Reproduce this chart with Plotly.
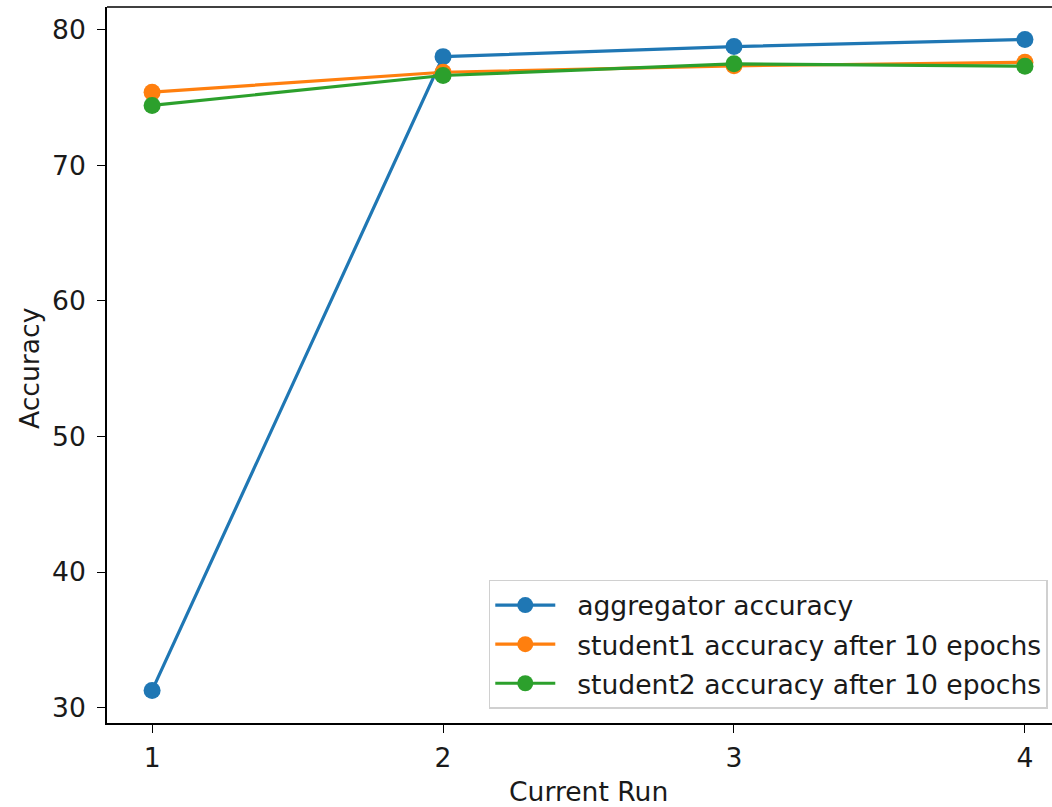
import plotly.graph_objects as go

runs = [1, 2, 3, 4]
aggregator_acc = [31.27, 78.01, 78.75, 79.27]
student1_acc = [75.39, 76.86, 77.33, 77.6]
student2_acc = [74.41, 76.62, 77.48, 77.3]

series_names = ["aggregator accuracy",
                "student1 accuracy after 10 epochs",
                "student2 accuracy after 10 epochs"]
series_colors = ["#1f77b4", "#ff7f0e", "#2ca02c"]
series_values = [aggregator_acc, student1_acc, student2_acc]

FONT = "DejaVu Sans"
FS = 26.6
TXT = "#1a1a1a"
PAD = "\u00a0\u00a0"  # small gap between legend handle and label

L, T, PW, PH = 107, 7, 945, 716

fig = go.Figure()
for name, color, vals in zip(series_names, series_colors, series_values):
    fig.add_trace(go.Scatter(
        x=runs, y=vals, name=PAD + name, mode="lines+markers", legendgroup=name,
        line=dict(color=color, width=3.2),
        marker=dict(color=color, size=17),
    ))

fig.update_layout(
    width=1052, height=807,
    margin=dict(l=L, r=0, t=T, b=807 - T - PH),
    paper_bgcolor="white", plot_bgcolor="white",
    font=dict(family=FONT, size=FS, color=TXT),
    showlegend=True,
    legend=dict(
        x=0.404, y=0.2, xanchor="left", yanchor="top",
        bgcolor="rgba(255,255,255,0.85)", bordercolor="#d0d0d0", borderwidth=1.5,
        font=dict(family=FONT, size=FS, color=TXT),
        itemwidth=60, traceorder="grouped", tracegroupgap=1.5,
    ),
    xaxis=dict(
        range=[0.845, 4.093], tickvals=runs, ticktext=[str(r) for r in runs],
        showgrid=False, zeroline=False, showline=True, linecolor="black", linewidth=1.6,
        ticks="outside", ticklen=8, tickwidth=1.4, tickcolor="black",
        ticklabelstandoff=2,
        tickfont=dict(family=FONT, size=FS, color=TXT),
    ),
    yaxis=dict(
        range=[28.87, 81.67], tickvals=[30, 40, 50, 60, 70, 80],
        showgrid=False, zeroline=False, showline=True, linecolor="black", linewidth=1.6,
        ticks="outside", ticklen=8, tickwidth=1.4, tickcolor="black",
        ticklabelstandoff=6,
        tickfont=dict(family=FONT, size=FS, color=TXT),
    ),
    shapes=[dict(type="line", xref="paper", yref="paper", x0=0, x1=1, y0=1, y1=1,
                 line=dict(color="black", width=1.6))],
    annotations=[
        dict(text="Current Run", xref="paper", yref="paper",
             x=(588 - L) / PW, y=-(791 - (T + PH)) / PH,
             xanchor="center", yanchor="middle", showarrow=False,
             font=dict(family=FONT, size=FS, color=TXT)),
        dict(text="Accuracy", xref="paper", yref="paper", textangle=-90,
             x=(29 - L) / PW, y=((T + PH) - 369) / PH,
             xanchor="center", yanchor="middle", showarrow=False,
             font=dict(family=FONT, size=FS, color=TXT)),
    ],
)

fig.write_html(
    "out.html",
    config={"displayModeBar": False},
    post_script="document.body.style.margin='0';document.body.style.overflow='hidden';",
)
